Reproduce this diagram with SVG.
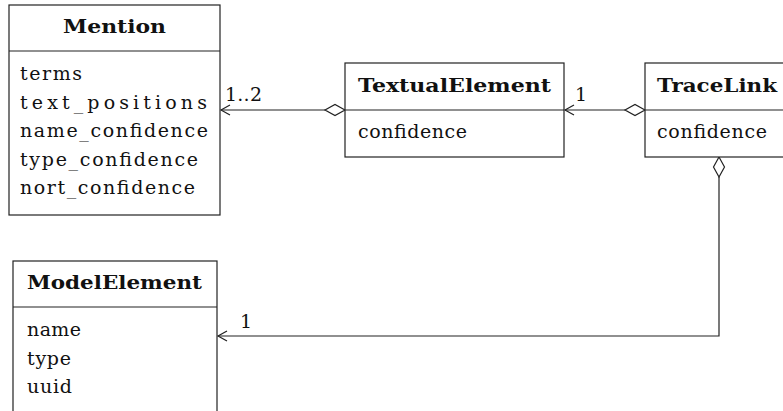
<svg xmlns="http://www.w3.org/2000/svg" width="783" height="411" viewBox="0 0 783 411">
<style>
.box{fill:#fff;stroke:#222;stroke-width:1.2}
.div{stroke:#222;stroke-width:1.2}
.t{font-family:"DejaVu Serif","Liberation Serif",serif;font-size:19px;fill:#111}
.b{font-family:"DejaVu Serif","Liberation Serif",serif;font-size:18px;font-weight:bold;fill:#111}
.ln{fill:none;stroke:#222;stroke-width:1.2}
.dia{fill:#fff;stroke:#222;stroke-width:1.2}
</style>
<rect width="783" height="411" fill="#fff"/>
<g id="connectors">
<line class="ln" x1="325" y1="110" x2="221" y2="110"/>
<polyline class="ln" points="230,105 221,110 230,115"/>
<polygon class="dia" points="345,110 335,104.5 325,110 335,115.5"/>
<text class="t" x="225" y="101" textLength="37" lengthAdjust="spacing">1..2</text>
<line class="ln" x1="625" y1="110" x2="565" y2="110"/>
<polyline class="ln" points="574,105 565,110 574,115"/>
<polygon class="dia" points="645,110 635,104.5 625,110 635,115.5"/>
<text class="t" x="575" y="101">1</text>
<polyline class="ln" points="719,177 719,336 218,336"/>
<polyline class="ln" points="227,331 218,336 227,341"/>
<polygon class="dia" points="719,157 724.5,167 719,177 713.5,167"/>
<text class="t" x="240" y="328">1</text>
</g>
<g id="Mention">
<rect class="box" x="9" y="5" width="211" height="210"/>
<line class="div" x1="9" y1="51" x2="220" y2="51"/>
<text class="b" x="114.5" y="33" text-anchor="middle" textLength="103" lengthAdjust="spacingAndGlyphs">Mention</text>
<text class="t" x="20" y="80" textLength="62" lengthAdjust="spacing">terms</text>
<text class="t" x="20" y="108.5" textLength="187" lengthAdjust="spacing">text_positions</text>
<text class="t" x="20" y="137" textLength="188" lengthAdjust="spacing">name_confidence</text>
<text class="t" x="20" y="165.5" textLength="178" lengthAdjust="spacing">type_confidence</text>
<text class="t" x="20" y="194" textLength="175" lengthAdjust="spacing">nort_confidence</text>
</g>
<g id="TextualElement">
<rect class="box" x="345" y="63" width="219" height="94"/>
<line class="div" x1="345" y1="110" x2="564" y2="110"/>
<text class="b" x="358" y="92" textLength="193" lengthAdjust="spacingAndGlyphs">TextualElement</text>
<text class="t" x="358" y="138" textLength="109" lengthAdjust="spacing">confidence</text>
</g>
<g id="TraceLink">
<rect class="box" x="645" y="63" width="150" height="94"/>
<line class="div" x1="645" y1="110" x2="783" y2="110"/>
<text class="b" x="657" y="92" textLength="120" lengthAdjust="spacingAndGlyphs">TraceLink</text>
<text class="t" x="657" y="138" textLength="110" lengthAdjust="spacing">confidence</text>
</g>
<g id="ModelElement">
<rect class="box" x="13" y="261" width="204" height="170"/>
<line class="div" x1="13" y1="307" x2="217" y2="307"/>
<text class="b" x="27" y="289" textLength="175" lengthAdjust="spacingAndGlyphs">ModelElement</text>
<text class="t" x="27" y="336" textLength="54" lengthAdjust="spacing">name</text>
<text class="t" x="27" y="364.5" textLength="44" lengthAdjust="spacing">type</text>
<text class="t" x="27" y="393" textLength="45" lengthAdjust="spacing">uuid</text>
</g>
</svg>
